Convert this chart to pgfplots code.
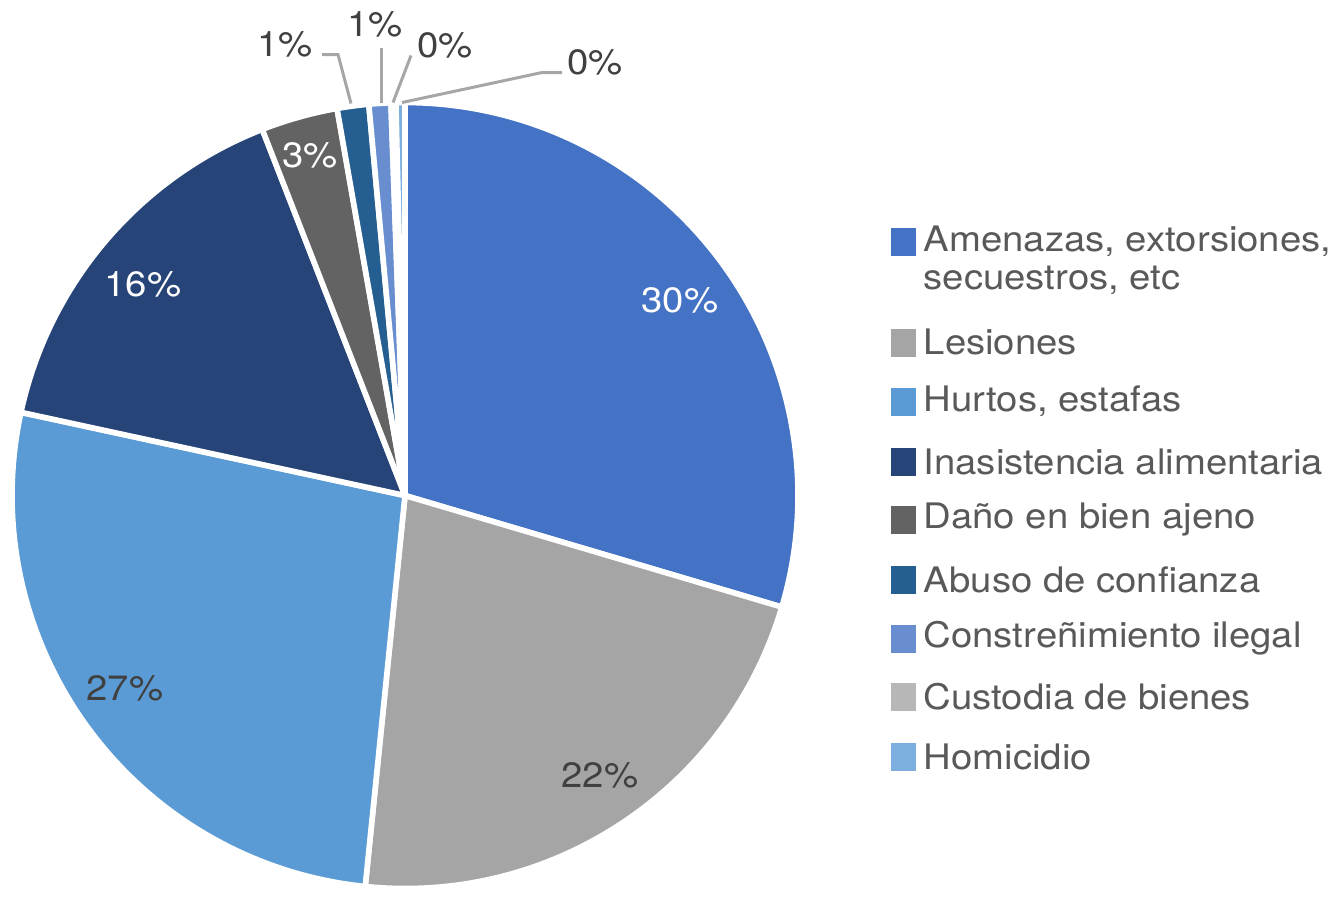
\documentclass[border=0pt]{standalone}
\usepackage{pgfplots}
\usepackage{pgfplotstable}
\pgfplotsset{compat=1.18}
\usepackage{fontspec}
\setmainfont[FakeStretch=1.09]{TeX Gyre Heros}

\definecolor{c0}{HTML}{4472C4}
\definecolor{c1}{HTML}{A5A5A5}
\definecolor{c2}{HTML}{5B9BD5}
\definecolor{c3}{HTML}{264478}
\definecolor{c4}{HTML}{636363}
\definecolor{c5}{HTML}{255E91}
\definecolor{c6}{HTML}{698ED0}
\definecolor{c7}{HTML}{B7B7B7}
\definecolor{c8}{HTML}{7CAFDD}
\definecolor{txt}{HTML}{595959}
\definecolor{lbl}{HTML}{404040}
\definecolor{leader}{HTML}{A6A6A6}

% share of each category, clockwise from 12 o'clock
\pgfplotstableread{
value
29.6
22.05
26.8
15.7
3.15
1.3
0.9
0.2
0.37
}\piedata

% cumulative start/end angles
\xdef\startang{90}
\foreach \i in {0,...,8}{%
  \pgfplotstablegetelem{\i}{value}\of\piedata
  \pgfmathsetmacro\sw{360*\pgfplotsretval/100.07}%
  \expandafter\xdef\csname sa\i\endcsname{\startang}%
  \pgfmathsetmacro\ea{\startang-\sw}%
  \expandafter\xdef\csname ea\i\endcsname{\ea}%
  \xdef\startang{\ea}%
}

\begin{document}
\begin{tikzpicture}
\begin{axis}[scale only axis,width=13.43cm,height=8.91cm,
  xmin=0,xmax=1343,ymin=0,ymax=891,hide axis,clip=false]
\pgfplotsinvokeforeach{0,...,8}{
  \fill[c#1,draw=white,line width=1.6pt,line join=round]
    (axis cs:405,396) -- ++(\csname sa#1\endcsname:3.93cm)
    arc[start angle=\csname sa#1\endcsname,end angle=\csname ea#1\endcsname,radius=3.93cm] -- cycle;
}
% leader lines
\draw[leader,line width=0.85pt] (axis cs:322,837) -- (axis cs:338,837) -- (axis cs:351,788);
\draw[leader,line width=0.85pt] (axis cs:381,844) -- (axis cs:381,789);
\draw[leader,line width=0.85pt] (axis cs:411,836) -- (axis cs:393,789);
\draw[leader,line width=0.85pt] (axis cs:562,819) -- (axis cs:542,819) -- (axis cs:402,789);
% data labels
\begin{scope}[every node/.style={font=\fontsize{10}{12}\selectfont}]
\node[white] at (axis cs:680,591) {30\%};
\node[lbl] at (axis cs:600,116) {22\%};
\node[lbl] at (axis cs:125,203) {27\%};
\node[white] at (axis cs:143,607) {16\%};
\node[white] at (axis cs:310,736) {3\%};
\node[lbl] at (axis cs:285,847) {1\%};
\node[lbl] at (axis cs:375,867) {1\%};
\node[lbl] at (axis cs:445,846) {0\%};
\node[lbl] at (axis cs:595,829) {0\%};
\end{scope}
% legend
\begin{scope}[every node/.style={font=\fontsize{10}{10.8}\selectfont,text=txt,anchor=west,inner sep=0pt,align=left}]
\fill[c0] (axis cs:891,636) rectangle (axis cs:916,664);
\node at (axis cs:923,631) {Amenazas, extorsiones,\\secuestros, etc};
\fill[c1] (axis cs:891,535) rectangle (axis cs:916,563);
\node at (axis cs:923,550) {Lesiones};
\fill[c2] (axis cs:891,476) rectangle (axis cs:916,504);
\node at (axis cs:923,490) {Hurtos, estafas};
\fill[c3] (axis cs:891,416) rectangle (axis cs:916,444);
\node at (axis cs:923,430) {Inasistencia alimentaria};
\fill[c4] (axis cs:891,358) rectangle (axis cs:916,386);
\node at (axis cs:923,372) {Daño en bien ajeno};
\fill[c5] (axis cs:891,298) rectangle (axis cs:916,326);
\node at (axis cs:923,312) {Abuso de confianza};
\fill[c6] (axis cs:891,239) rectangle (axis cs:916,267);
\node at (axis cs:923,253) {Constreñimiento ilegal};
\fill[c7] (axis cs:891,181) rectangle (axis cs:916,209);
\node at (axis cs:923,195) {Custodia de bienes};
\fill[c8] (axis cs:891,121) rectangle (axis cs:916,149);
\node at (axis cs:923,135) {Homicidio};
\end{scope}
\end{axis}
\path[use as bounding box] (0,0) rectangle (13.43cm,8.91cm);
\end{tikzpicture}
\end{document}
